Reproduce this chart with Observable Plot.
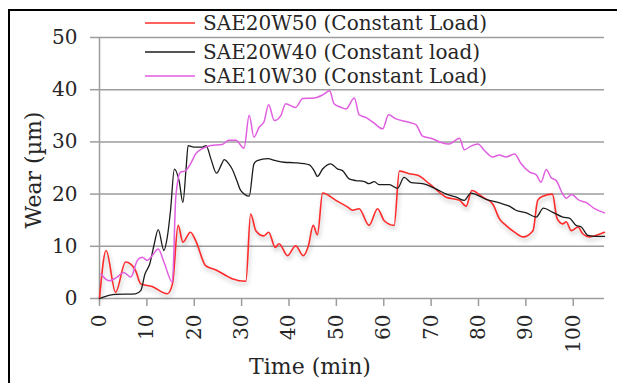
<!DOCTYPE html>
<html>
<head>
<meta charset="utf-8">
<script src="https://cdn.jsdelivr.net/npm/d3@7"></script>
<script src="https://cdn.jsdelivr.net/npm/@observablehq/plot@0.6"></script>
<style>
  body { margin: 0; background: #fff; }
  #wrap { position: relative; width: 617px; height: 383px; overflow: hidden; font-family: "DejaVu Serif", serif; background: #fff; }
  #frame { position: absolute; left: 8px; top: 9px; width: 640px; height: 400px; border-left: 2px solid #000; border-top: 2px solid #000; box-sizing: border-box; pointer-events: none; }
  #chart { position: absolute; left: 0; top: 0; }
  .row { position: absolute; left: 145px; height: 24px; line-height: 24px; display: flex; align-items: center; font-size: 20px; color: #262626; white-space: nowrap; }
  .row svg { margin-right: 8px; }
</style>
</head>
<body>
<div id="wrap">
  <div id="chart"></div>
  <div id="frame"></div>
  <div id="legend"></div>
</div>
<script>
// Series names and colors
const seriesNames = ["SAE20W50 (Constant Load)", "SAE20W40 (Constant load)", "SAE10W30 (Constant Load)"];
const seriesColors = ["#ff2b2b", "#1c1c1c", "#e05ee0"];

// Axis ticks
const xTicks = [0, 10, 20, 30, 40, 50, 60, 70, 80, 90, 100];
const yTicks = [0, 10, 20, 30, 40, 50];

// SAE20W50 (red)
const redTime = [0, 1.4, 3.4, 5.5, 6.6, 7.6, 8.7, 11.1, 14.3, 15.4, 16.6, 17.6, 19.2, 20.3, 22.4, 24.5, 27.3, 28, 30.9, 31.9, 33, 34.7, 35.7, 37.1, 37.9, 39.7, 41.4, 43, 44.1, 45.1, 46, 47.1, 49.9, 52.4, 53.4, 54.8, 56.9, 58.7, 60.1, 62.2, 63.3, 65.4, 67.2, 69.6, 73.2, 76, 77.4, 78.6, 80.9, 83, 84.4, 85.8, 87.6, 89.4, 91.5, 92.5, 93.6, 95.6, 96.6, 97.8, 98.5, 99.6, 101, 102, 103.4, 105.2, 106.6];
const redWear = [0, 9.2, 1.2, 7.0, 6.6, 5.4, 2.8, 2.3, 0.9, 2.8, 14, 10.8, 12.7, 11.1, 6.3, 5.5, 4.1, 3.8, 3.3, 16.2, 13, 12, 12.7, 9.8, 10.5, 8.2, 10.1, 8.2, 10.1, 14, 12.2, 20.2, 18.8, 17.5, 16.9, 17.2, 14, 17.2, 14.9, 14, 24.4, 23.9, 23.6, 22, 19.4, 18.8, 17.7, 20.7, 19.4, 18.1, 15.3, 14, 12.7, 11.8, 13, 18.8, 19.6, 20, 15.3, 14.3, 14.7, 13, 13.7, 12.4, 11.8, 12.2, 12.7];

// SAE20W40 (black)
const blackTime = [0, 2, 3.4, 7.6, 8.7, 9.6, 10.6, 11.5, 12.4, 13.6, 14.3, 15, 15.8, 16.8, 17.6, 18.3, 18.7, 19.9, 21.7, 22.5, 23.5, 24.7, 25.8, 26.3, 27.3, 28, 29.1, 29.8, 31.6, 32.6, 33.3, 35.5, 37.2, 39, 41.4, 44.3, 45.3, 46, 47.1, 48.8, 50.3, 51.3, 52.7, 54.1, 55.9, 56.9, 58, 59, 61.2, 62.9, 64.3, 65.8, 68.2, 71, 73.2, 75.3, 77, 78.4, 81.6, 84.4, 86.5, 87.9, 90.1, 92.2, 93.7, 95.7, 97.8, 99.2, 100.6, 101.7, 103.1, 104.9, 106.6];
const blackWear = [0, 0.6, 0.8, 0.9, 1.5, 4.7, 6.6, 10.2, 13.2, 9.2, 11.7, 16.9, 24.8, 22.6, 18.4, 25.2, 29.3, 29, 29, 29.3, 26.8, 24, 25.8, 26.6, 25.8, 24.8, 22.3, 20.7, 19.6, 25.8, 26.4, 26.8, 26.4, 26.1, 26, 25.6, 24.5, 23.4, 24.8, 25.8, 24.8, 24.5, 22.9, 22.6, 22.4, 22, 22.4, 21.8, 21.8, 21.1, 23.2, 22.2, 22, 21, 20, 19.4, 18.8, 20.2, 19, 18.3, 17.7, 16.9, 16.4, 15.6, 17.3, 16.5, 15.6, 15.4, 14, 13.7, 12.1, 11.9, 11.9];

// SAE10W30 (magenta)
const magentaTime = [0.3, 2, 3.7, 5.1, 6.6, 8, 9, 10.1, 11.1, 12.4, 13.6, 15.4, 16.1, 17.1, 18.2, 19.2, 20.3, 21.7, 23.5, 25.9, 27.3, 28.8, 30.5, 31.6, 32.6, 33.7, 34.7, 35.7, 36.9, 38.3, 39.3, 41.4, 42.9, 45.3, 47.1, 48.6, 49.5, 51, 52, 53.8, 54.8, 56.2, 57.7, 59.8, 61, 62.6, 65.1, 66.8, 68.2, 70.3, 72.1, 73.8, 76, 77, 78.4, 79.9, 81.2, 83, 84.4, 85.8, 87.6, 89, 90.8, 92.2, 93.2, 94.3, 95.3, 96.4, 97.8, 98.5, 99.6, 101.3, 102.7, 104.5, 106.6];
const magentaWear = [4.7, 3.4, 4.1, 5.0, 4.1, 7.3, 7.9, 7.3, 8.2, 9.5, 7.0, 3.1, 19.4, 24.2, 24.5, 25.8, 27.7, 28.7, 29.3, 29.5, 30.3, 30.3, 28.8, 35.1, 30.9, 32.8, 33.8, 37.1, 34.1, 35.1, 37.3, 36.6, 38.3, 38.4, 39.0, 39.8, 37.3, 36.6, 36.3, 38.4, 35.2, 34.7, 33.8, 32.5, 35.2, 34.4, 33.8, 33.3, 31.1, 30.6, 29.9, 29.6, 30.7, 28.5, 29.2, 29.6, 28.4, 27.1, 27.5, 27.1, 27.7, 25.8, 24.2, 23.7, 22.3, 24.7, 23.2, 22.6, 20, 19.2, 19.9, 18.8, 18.4, 17.2, 16.4];

const zip = (t, w) => t.map((d, i) => ({t: d, w: w[i]}));
const red = zip(redTime, redWear);
const black = zip(blackTime, blackWear);
const magenta = zip(magentaTime, magentaWear);

const grid = "#9d9d9d";

const chart = Plot.plot({
  width: 617,
  height: 383,
  marginLeft: 99,
  marginTop: 37,
  marginRight: 13,
  marginBottom: 85,
  style: { fontFamily: "DejaVu Serif", fontSize: "20px", color: "#262626", background: "transparent", overflow: "visible" },
  x: { domain: [0, 106.6] },
  y: { domain: [0, 50] },
  marks: [
    Plot.gridY(yTicks, { stroke: grid, strokeOpacity: 1, strokeWidth: 1.5 }),
    Plot.ruleX([0], { stroke: grid, strokeWidth: 1.5 }),
    Plot.axisY(yTicks, { tickSize: 9, tickPadding: 13, stroke: grid, strokeWidth: 1.5, label: null, fontSize: 20 }),
    Plot.axisX(xTicks, { tickSize: 8, tickPadding: 8, tickRotate: -90, stroke: grid, strokeWidth: 1.5, label: null, fontSize: 20 }),
    Plot.line(red, { x: "t", y: "w", stroke: seriesColors[0], strokeWidth: 1.6, curve: "monotone-x" }),
    Plot.line(black, { x: "t", y: "w", stroke: seriesColors[1], strokeWidth: 1.3, curve: "monotone-x" }),
    Plot.line(magenta, { x: "t", y: "w", stroke: seriesColors[2], strokeWidth: 1.5, curve: "monotone-x" }),
    Plot.text(["Time (min)"], { frameAnchor: "bottom", lineAnchor: "middle", textAnchor: "middle", dx: -42, dy: 68, fontSize: 22, fill: "#262626" }),
    Plot.text(["Wear (µm)"], { frameAnchor: "left", lineAnchor: "middle", textAnchor: "middle", dx: -66, dy: 2, rotate: -90, fontSize: 22, fill: "#262626" })
  ]
});
document.getElementById("chart").appendChild(chart);

// drop shadow on the red series, as in the reference
d3.select(chart).selectAll('g[aria-label="line"]')
  .filter(function () { return this.getAttribute("stroke") === seriesColors[0]; })
  .style("filter", "drop-shadow(1px 3px 2px rgba(0,0,0,0.28))");

// legend
const rowCenters = [23, 52, 76];
const legend = document.getElementById("legend");
seriesNames.forEach((name, i) => {
  const row = document.createElement("div");
  row.className = "row";
  row.style.top = (rowCenters[i] - 12) + "px";
  row.innerHTML = `<svg width="50" height="4"><line x1="0" x2="50" y1="2" y2="2" stroke="${seriesColors[i]}" stroke-width="1.5"/></svg><span>${name}</span>`;
  legend.appendChild(row);
});
</script>
</body>
</html>
